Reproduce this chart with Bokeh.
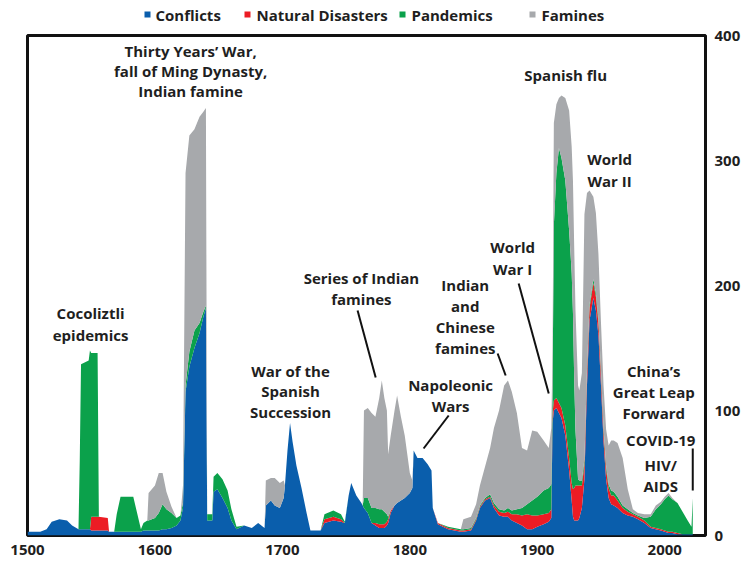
from bokeh.plotting import figure
from bokeh.layouts import column
from bokeh.models import ColumnDataSource, FixedTicker
from bokeh.core.properties import value
from bokeh.embed import file_html
from bokeh.resources import INLINE

# ---------------- data (deaths, stacked layers) ----------------
years = [1500, 1510, 1515, 1519, 1525, 1531, 1535, 1540, 1541, 1542, 1548, 1549, 1550, 1555, 1556, 1563, 1564, 1568, 1570, 1573, 1583, 1589,
         1591, 1594, 1595, 1600, 1603, 1606, 1609, 1613, 1617, 1620, 1622, 1624, 1627, 1631, 1635, 1638, 1640, 1641, 1645, 1646, 1649, 1653, 1657, 1660, 1664,
         1670, 1676, 1681, 1686, 1687, 1691, 1694, 1698, 1701, 1702, 1704, 1706, 1708, 1711, 1715, 1719, 1722, 1730, 1733, 1740, 1746, 1749, 1752, 1754, 1758, 1762, 1763,
         1764, 1767, 1770, 1773, 1776, 1778, 1780, 1782, 1783, 1785, 1788, 1790, 1793, 1796, 1800, 1802, 1803, 1806, 1810, 1814, 1817, 1818, 1822, 1830, 1840,
         1842, 1848, 1852, 1855, 1859, 1863, 1866, 1870, 1874, 1877, 1880, 1884, 1888, 1892, 1896, 1900, 1905, 1909, 1911,
         1912, 1913, 1915, 1917, 1919, 1922, 1925, 1927, 1928, 1929, 1930, 1932, 1933, 1935, 1937, 1939, 1941, 1944, 1946, 1948, 1950, 1952, 1954,
         1956, 1958, 1960, 1963, 1967, 1971, 1975, 1979, 1984, 1989, 1993, 1997, 2000, 2003, 2006, 2010, 2014, 2018, 2021, 2022]

conflicts = [3, 3, 5, 11, 13, 12, 8, 5, 5, 5, 5, 5, 4, 4, 4, 4, 3, 3, 3, 3, 3, 3,
             4, 4, 4, 4, 4, 5, 5, 6, 8, 12, 22, 115, 135, 150, 162, 175, 182, 12, 12, 35, 37, 30, 22, 12, 5,
             8, 6, 10, 6, 24, 28, 24, 22, 30, 40, 68, 90, 75, 56, 38, 18, 4, 4, 10, 12, 11, 10, 32, 42, 32, 26, 24,
             22, 18, 10, 8, 6, 6, 6, 8, 10, 18, 24, 26, 28, 30, 34, 38, 68, 62, 62, 57, 52, 22, 9, 5, 3,
             3, 4, 12, 22, 28, 30, 22, 16, 15, 15, 12, 10, 8, 5, 5, 7, 9, 11, 14,
             90, 100, 102, 98, 94, 80, 52, 28, 15, 12, 12, 12, 14, 22, 45, 120, 172, 190, 180, 160, 120, 75, 45,
             30, 25, 24, 22, 18, 16, 15, 13, 10, 6, 5, 4, 3, 2, 2, 1, 1, 1, 1, 1]

natural = [0, 0, 0, 0, 0, 0, 0, 0, 0, 0, 0, 0, 11, 11, 11, 10, 0, 0, 0, 0, 0, 0,
           0, 0, 0, 0, 0, 0, 0, 0, 0, 0, 0, 0, 0, 0, 0, 0, 0, 0, 0, 0, 0, 0, 0, 0, 0,
           0, 0, 0, 0, 0, 0, 0, 0, 0, 0, 0, 0, 0, 0, 0, 0, 0, 0, 3, 3, 2, 0, 0, 0, 0, 0, 0,
           0, 0, 0, 2, 3, 3, 3, 3, 3, 2, 0, 0, 0, 0, 0, 0, 0, 0, 0, 0, 0, 0, 1, 1, 1,
           1, 1, 1, 1, 1, 1, 2, 3, 3, 4, 5, 7, 8, 12, 11, 9, 8, 7, 7,
           8, 8, 8, 8, 8, 8, 10, 14, 22, 26, 28, 28, 26, 18, 12, 10, 10, 12, 11, 10, 9, 8, 8,
           8, 7, 8, 6, 4, 3, 2, 2, 2, 1, 1, 1, 1, 1, 1, 1, 0, 0, 0, 0]

pandemics = [0, 0, 0, 0, 0, 0, 0, 0, 55, 132, 135, 143, 131, 131, 0, 0, 0, 0, 14, 28, 28, 2,
             6, 8, 8, 10, 14, 20, 16, 12, 6, 4, 4, 5, 12, 14, 8, 4, 2, 5, 5, 12, 13, 15, 14, 9, 2,
             0, 0, 0, 0, 0, 0, 0, 0, 0, 0, 0, 0, 0, 0, 0, 0, 0, 0, 4, 5, 4, 1, 0, 0, 0, 0, 0,
             8, 12, 12, 12, 12, 12, 10, 6, 2, 0, 0, 0, 0, 0, 0, 0, 0, 0, 0, 0, 0, 0, 0, 1, 1,
             1, 1, 1, 1, 1, 2, 2, 2, 2, 3, 3, 4, 6, 8, 12, 15, 19, 20, 20,
             20, 140, 180, 204, 200, 196, 182, 168, 141, 86, 44, 5, 4, 4, 4, 3, 3, 3, 3, 3, 3, 3, 3,
             3, 4, 3, 3, 2, 2, 1, 1, 2, 8, 15, 20, 25, 29, 26, 24, 18, 11, 6, 29]

famines = [0, 0, 0, 0, 0, 0, 0, 0, 0, 0, 0, 0, 0, 0, 0, 0, 0, 0, 0, 0, 0, 0,
           0, 0, 22, 26, 32, 25, 14, 5, 0, 0, 14, 170, 173, 161, 165, 160, 158, 0, 0, 0, 0, 0, 0, 0, 0,
           0, 0, 0, 0, 20, 18, 22, 20, 14, 0, 0, 0, 0, 0, 0, 0, 0, 0, 0, 0, 0, 0, 0, 0, 0, 0, 0,
           70, 72, 76, 73, 89, 103, 91, 83, 50, 60, 76, 86, 67, 50, 16, 6, 0, 0, 0, 0, 0, 0, 0, 0, 0,
           8, 9, 11, 16, 25, 37, 60, 79, 100, 102, 95, 77, 48, 43, 56, 52, 40, 32, 45,
           32, 82, 55, 40, 50, 66, 96, 101, 106, 106, 96, 75, 72, 86, 196, 141, 91, 66, 64, 52, 38, 34, 29,
           31, 40, 41, 43, 38, 16, 3, 2, 3, 2, 3, 2, 2, 2, 1, 0, 0, 0, 0, 0]

series_names = ["Conflicts", "Natural Disasters", "Pandemics", "Famines"]
series_colors = ["#0A5EAC", "#EC1C24", "#0BA14B", "#A7A9AC"]
x_ticks = [1500, 1600, 1700, 1800, 1900, 2000]
y_ticks = [0, 100, 200, 300, 400]

# annotations (text, year, value)
labels = [
    ("Cocoliztli", 1549.5, 178.4), ("epidemics", 1549.5, 160.8),
    ("Thirty Years\u2019 War,", 1628, 388), ("fall of Ming Dynasty,", 1628, 372), ("Indian famine", 1628, 356),
    ("War of the", 1706.4, 132), ("Spanish", 1706.4, 116), ("Succession", 1706.4, 99.2),
    ("Series of Indian", 1762, 206.4), ("famines", 1762, 189.6),
    ("Indian", 1843.5, 200.8), ("and", 1843.5, 184), ("Chinese", 1843.5, 167.2), ("famines", 1843.5, 150.4),
    ("Napoleonic", 1832, 120.8), ("Wars", 1832, 104),
    ("World", 1880.7, 231.2), ("War I", 1880.7, 213.6),
    ("Spanish flu", 1922.3, 368.8),
    ("World", 1956.8, 301.6), ("War II", 1956.8, 284),
    ("China\u2019s", 1991.4, 132), ("Great Leap", 1991.4, 115.2), ("Forward", 1991.4, 98.4),
    ("COVID-19", 1996.9, 76.8),
    ("HIV/", 1996.9, 56.8), ("AIDS", 1996.9, 40),
]
leaders = [
    (1759, 180, 1773.2, 126.4),
    (1868.9, 145.6, 1875.2, 128),
    (1830.5, 96, 1810.8, 69.6),
    (1885.4, 201.6, 1909, 113.6),
    (2022, 69.6, 2022, 36),
]

# legend strip layout (page pixel positions)
leg_square_x = [147, 247, 402, 532]
leg_text_x = [155, 256, 411, 541]
LEG_H = 24
LEFT, RIGHT = 27, 40

FONT = "Open Sans"
TXT = "#1f1f1f"

# ---------------- legend strip ----------------
leg = figure(width=745, height=LEG_H, x_range=(LEFT, 745 - RIGHT), y_range=(0, LEG_H),
             x_axis_type=None, y_axis_type=None, output_backend="svg", toolbar_location=None,
             min_border_left=LEFT, min_border_right=RIGHT, min_border_top=0, min_border_bottom=0)
leg.outline_line_color = None
leg.xgrid.visible = False
leg.ygrid.visible = False
leg.scatter(x=leg_square_x, y=[LEG_H - 14] * 4, marker="square", size=6, color=series_colors, line_color=None)
leg.text(x=leg_text_x, y=[LEG_H - 14.5] * 4, text=series_names, text_align="left", text_baseline="middle",
         text_font=value(FONT), text_font_style="bold", text_font_size="15px", text_color=TXT)

# ---------------- main chart ----------------
src = ColumnDataSource(dict(year=years, c=conflicts, n=natural, p=pandemics, f=famines))

p = figure(width=745, height=539, x_range=(1500, 2032), y_range=(0, 400),
           output_backend="svg", toolbar_location=None, y_axis_location="right",
           min_border_left=LEFT, min_border_right=RIGHT, min_border_top=11, min_border_bottom=28)
p.xgrid.visible = False
p.ygrid.visible = False
p.outline_line_color = "#111111"
p.outline_line_width = 3
p.outline_line_alpha = 1
p.background_fill_color = "white"
p.border_fill_color = "white"

p.varea_stack(["c", "n", "p", "f"], x="year", color=series_colors, source=src)

for ax, ticks, standoff in ((p.xaxis[0], x_ticks, 3), (p.yaxis[0], y_ticks, 3)):
    ax.ticker = FixedTicker(ticks=ticks)
    ax.axis_line_color = None
    ax.major_tick_line_color = None
    ax.minor_tick_line_color = None
    ax.major_label_text_font = FONT
    ax.major_label_text_font_size = "15px"
    ax.major_label_text_font_style = "bold"
    ax.major_label_text_color = TXT
    ax.major_label_standoff = standoff

lab_src = ColumnDataSource(dict(t=[l[0] for l in labels], x=[l[1] for l in labels], y=[l[2] for l in labels]))
p.text(x="x", y="y", text="t", source=lab_src, text_align="center", text_baseline="middle",
       text_font=value(FONT), text_font_style="bold", text_font_size="15px", text_color=TXT)

seg_src = ColumnDataSource(dict(x0=[s[0] for s in leaders], y0=[s[1] for s in leaders],
                                x1=[s[2] for s in leaders], y1=[s[3] for s in leaders]))
p.segment(x0="x0", y0="y0", x1="x1", y1="y1", source=seg_src, line_color="#111111", line_width=2)

layout = column(leg, p, spacing=0)
open("out.html", "w").write(file_html(layout, INLINE))
